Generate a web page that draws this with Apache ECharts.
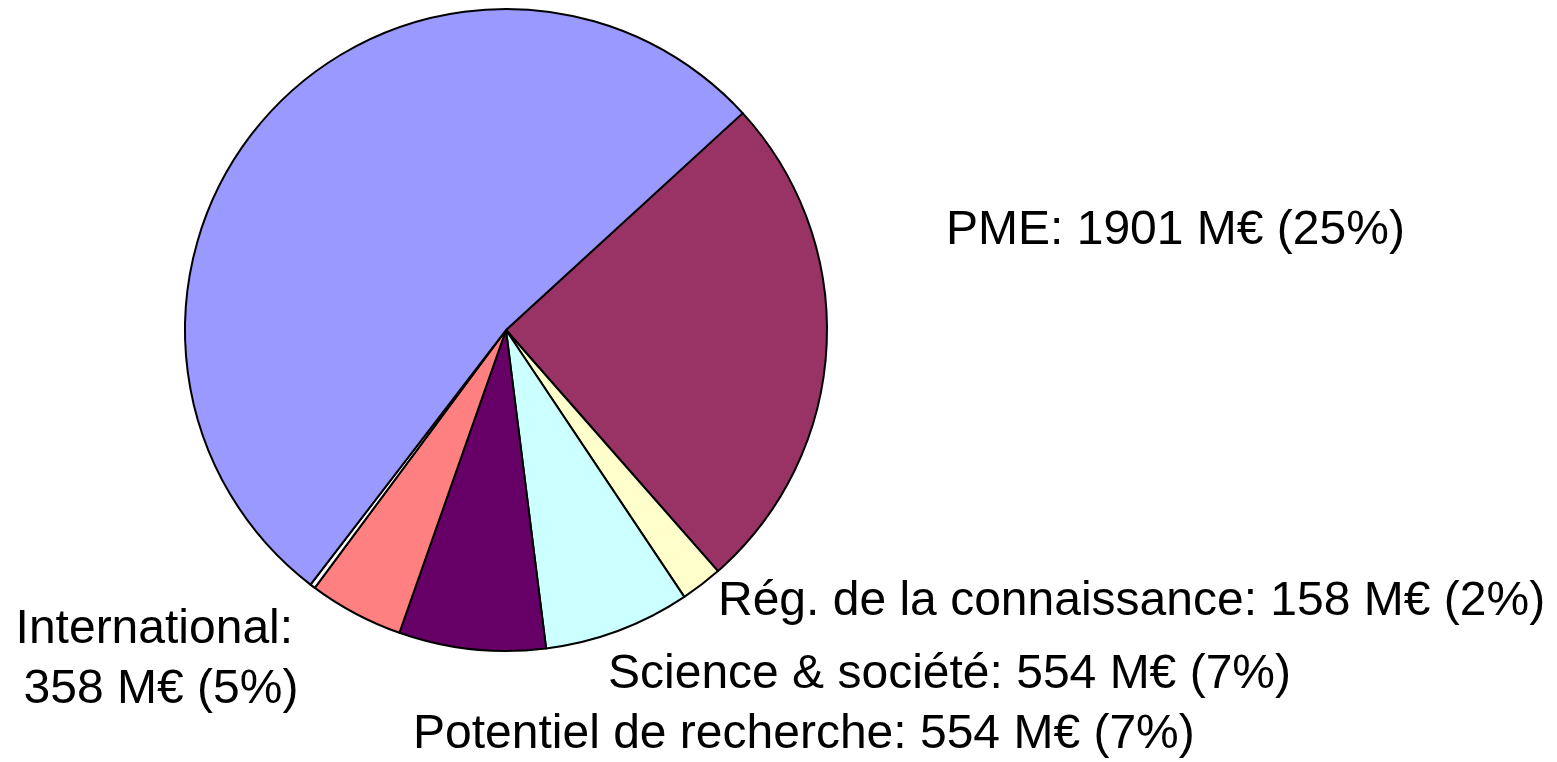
<!DOCTYPE html>
<html>
<head>
<meta charset="utf-8">
<style>
  html, body { margin: 0; padding: 0; background: #ffffff; }
  #chart { width: 1557px; height: 762px; }
</style>
<script src="https://cdn.jsdelivr.net/npm/echarts@6/dist/echarts.min.js"></script>
</head>
<body>
<div id="chart"></div>
<script>
// Budget split (M€) of the programme, in clockwise order
const names = [
  'PME',
  'Rég. de la connaissance',
  'Science & société',
  'Potentiel de recherche',
  'International',
  'Politiques',
  'Infrastructures'
];
const values = [1901, 158, 554, 554, 358, 20, 3961];
const showLabel = [true, true, true, true, true, false, false];
const colors = ['#993366', '#FFFFCC', '#CCFFFF', '#660066', '#FF8080', '#FFFFFF', '#9999FF'];

// Label anchors: [x, y, align]
const labelPos = [
  [946, 231, 'left'],
  [718, 602, 'left'],
  [608, 675, 'left'],
  [413, 735, 'left'],
  [161, 660, 'center']
];

const total = values.reduce((a, b) => a + b, 0);

const data = names.map((n, i) => ({
  name: n,
  value: values[i],
  itemStyle: { color: colors[i] },
  label: { show: showLabel[i] }
}));

const chart = echarts.init(document.getElementById('chart'), null, { renderer: 'canvas' });
chart.setOption({
  animation: false,
  backgroundColor: '#ffffff',
  series: [{
    type: 'pie',
    center: [506, 330],
    radius: [0, 321],
    startAngle: 42.5,
    clockwise: true,
    avoidLabelOverlap: false,
    silent: true,
    itemStyle: { borderColor: '#000000', borderWidth: 2 },
    label: {
      show: true,
      position: 'outside',
      color: '#000000',
      fontFamily: '"Liberation Sans", Arial, sans-serif',
      fontSize: 48,
      lineHeight: 60,
      formatter: function (p) {
        const pct = Math.round(p.value / total * 100);
        if (p.dataIndex === 4) {
          return p.name + ': \n' + p.value + ' M€ (' + pct + '%)';
        }
        return p.name + ': ' + p.value + ' M€ (' + pct + '%)';
      }
    },
    labelLine: { show: false },
    labelLayout: function (params) {
      const p = labelPos[params.dataIndex];
      if (!p) return {};
      return { x: p[0], y: p[1], align: p[2], verticalAlign: 'middle' };
    },
    data: data
  }]
});
</script>
</body>
</html>
